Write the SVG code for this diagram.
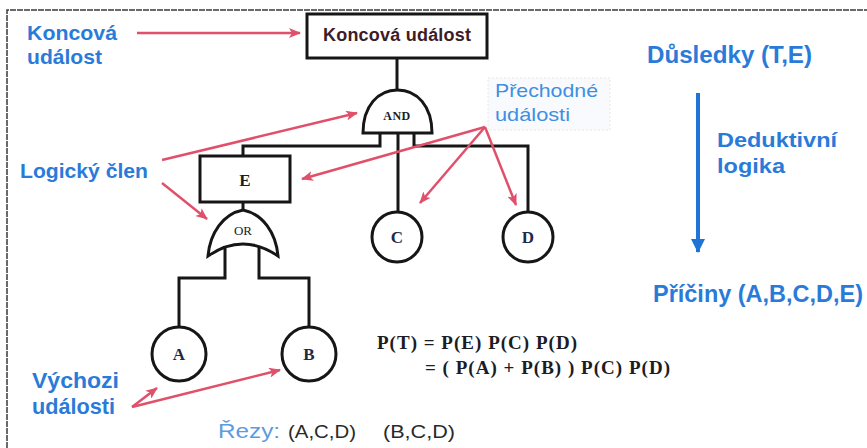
<svg xmlns="http://www.w3.org/2000/svg" width="867" height="448" viewBox="0 0 867 448">
<style>
.lbl{font-family:"Liberation Sans",Arial,sans-serif;font-weight:bold;fill:#2a7bd9}
.lbl2{font-family:"Liberation Sans",Arial,sans-serif;fill:#3f8fe0}
.shape{fill:#fff;stroke:#161616;stroke-width:3}
.wire{fill:none;stroke:#161616;stroke-width:3}
.ser{font-family:"Liberation Serif","Times New Roman",serif;fill:#1c1c24}
.ltr{font-family:"Liberation Serif","Times New Roman",serif;font-weight:bold;font-size:17px;fill:#1e2a48;text-anchor:middle}
.red{fill:none;stroke:#e0506a;stroke-width:2.5;marker-end:url(#rh)}
</style>
<defs>
<marker id="rh" markerUnits="userSpaceOnUse" markerWidth="12" markerHeight="10" refX="11" refY="5" orient="auto">
<path d="M0,0 L12,5 L0,10 L3,5 z" fill="#e0506a"/>
</marker>
<marker id="bh" markerUnits="userSpaceOnUse" markerWidth="14" markerHeight="16" refX="13" refY="7" orient="auto">
<path d="M0,0 L14,7 L0,14 z" fill="#1f74d6"/>
</marker>
</defs>
<rect width="867" height="448" fill="#fff"/>
<path d="M7,448 V10 H867" fill="none" stroke="#3a3a3a" stroke-width="1.5" stroke-dasharray="6 1"/>

<g id="connectors">
<line class="wire" x1="397" y1="58" x2="397" y2="90"/>
<line class="wire" x1="398" y1="133" x2="398" y2="212"/>
<path class="wire" d="M380,133 V146 H243 V156"/>
<path class="wire" d="M414,133 V146 H528 V212"/>
<line class="wire" x1="243" y1="202" x2="243" y2="211"/>
<path class="wire" d="M225,247 V278 H179 V327"/>
<path class="wire" d="M259,247 V278 H309 V327"/>
</g>

<g id="top-event">
<rect class="shape" x="307" y="14" width="180" height="44"/>
<text x="397" y="41" text-anchor="middle" font-family="Liberation Sans, Arial, sans-serif" font-weight="bold" font-size="18" fill="#3c1c28" textLength="148" lengthAdjust="spacing">Koncová událost</text>
</g>

<g id="and-gate">
<path class="shape" d="M363,133 C363,106 378,90 397.5,90 C417,90 432,106 432,133 Z"/>
<text class="ser" x="397" y="120" text-anchor="middle" font-size="12" font-weight="bold" letter-spacing="0.5">AND</text>
</g>

<g id="event-e">
<rect class="shape" x="200" y="156" width="90" height="46"/>
<text class="ser" x="245" y="186" text-anchor="middle" font-size="17" font-weight="bold">E</text>
</g>

<g id="or-gate">
<path class="shape" d="M243,210 C263,214 276,233 278,256 Q243,232 208,256 C210,233 223,214 243,210 Z"/>
<text class="ser" x="243" y="235" text-anchor="middle" font-size="13">OR</text>
</g>

<g id="event-a"><circle class="shape" cx="179" cy="354" r="27"/><text class="ltr" x="179" y="360">A</text></g>
<g id="event-b"><circle class="shape" cx="309" cy="354" r="27"/><text class="ltr" x="309" y="360">B</text></g>
<g id="event-c"><circle class="shape" cx="397" cy="237" r="25"/><text class="ltr" x="397" y="243">C</text></g>
<g id="event-d"><circle class="shape" cx="528" cy="237" r="25"/><text class="ltr" x="528" y="243">D</text></g>

<g id="annotations">
<line class="red" x1="137" y1="33" x2="300" y2="33"/>
<line class="red" x1="162" y1="160" x2="357" y2="113"/>
<line class="red" x1="162" y1="183" x2="207" y2="219"/>
<line class="red" x1="485" y1="127" x2="302" y2="179"/>
<line class="red" x1="485" y1="127" x2="420" y2="203"/>
<line class="red" x1="485" y1="127" x2="516" y2="205"/>
<line class="red" x1="132" y1="407" x2="280" y2="370"/>
<line class="red" x1="132" y1="407" x2="157" y2="388"/>
<line x1="698" y1="93" x2="698" y2="252" stroke="#1f74d6" stroke-width="4" marker-end="url(#bh)"/>
</g>

<g id="labels">
<text class="lbl" x="27" y="40" font-size="21" textLength="90" lengthAdjust="spacingAndGlyphs">Koncová</text>
<text class="lbl" x="27" y="64" font-size="21" textLength="75" lengthAdjust="spacingAndGlyphs">událost</text>
<text class="lbl" x="20" y="178" font-size="21" textLength="128" lengthAdjust="spacingAndGlyphs">Logický člen</text>
<text class="lbl" x="32" y="388" font-size="22" textLength="87" lengthAdjust="spacingAndGlyphs">Výchozi</text>
<text class="lbl" x="32" y="414" font-size="22" textLength="83" lengthAdjust="spacingAndGlyphs">události</text>
<rect x="488" y="78" width="122" height="52" fill="#f8fafd" stroke="#ece8e0" stroke-width="1" stroke-dasharray="2 2"/>
<text class="lbl2" x="495" y="97" font-size="19" font-weight="500" textLength="103" lengthAdjust="spacingAndGlyphs">Přechodné</text>
<text class="lbl2" x="495" y="121" font-size="19" font-weight="500" textLength="75" lengthAdjust="spacingAndGlyphs">události</text>
<text class="lbl" x="647" y="63" font-size="23" textLength="165" lengthAdjust="spacingAndGlyphs">Důsledky (T,E)</text>
<text class="lbl" x="717" y="147" font-size="21" textLength="120" lengthAdjust="spacingAndGlyphs">Deduktivní</text>
<text class="lbl" x="717" y="173" font-size="21" textLength="68" lengthAdjust="spacingAndGlyphs">logika</text>
<text class="lbl" x="653" y="302" font-size="23" textLength="210" lengthAdjust="spacingAndGlyphs">Příčiny (A,B,C,D,E)</text>
<text class="ser" x="377" y="349" font-size="19" font-weight="bold" textLength="200" lengthAdjust="spacing">P(T) = P(E) P(C) P(D)</text>
<text class="ser" x="425" y="374" font-size="19" font-weight="bold" textLength="245" lengthAdjust="spacing">= ( P(A) + P(B) ) P(C) P(D)</text>
<text x="218" y="438" font-family="Liberation Sans, Arial, sans-serif" font-size="20" fill="#5b9be0" textLength="62" lengthAdjust="spacingAndGlyphs">Řezy:</text>
<text x="288" y="438" font-family="Liberation Sans, Arial, sans-serif" font-size="19" fill="#2a2a2a" textLength="68" lengthAdjust="spacingAndGlyphs">(A,C,D)</text>
<text x="383" y="438" font-family="Liberation Sans, Arial, sans-serif" font-size="19" fill="#2a2a2a" textLength="72" lengthAdjust="spacingAndGlyphs">(B,C,D)</text>
</g>
</svg>
